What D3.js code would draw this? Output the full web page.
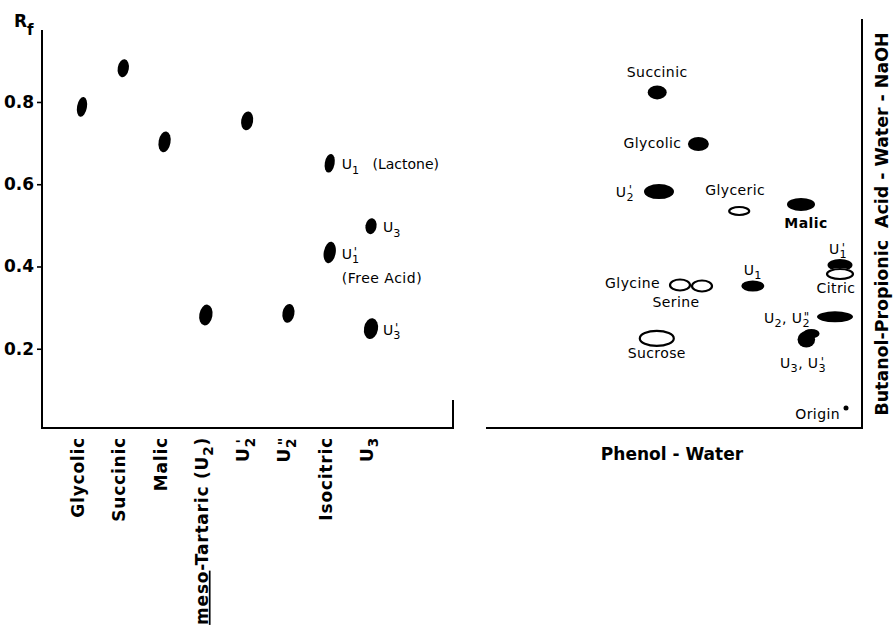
<!DOCTYPE html>
<html>
<head>
<meta charset="utf-8">
<script src="https://cdn.jsdelivr.net/npm/d3@7/dist/d3.min.js"></script>
<style>
body { margin: 0; background: #fff; }
svg text { font-family: "DejaVu Sans", sans-serif; fill: #000; white-space: pre; }
</style>
</head>
<body>
<div id="chart"></div>
<script>
// ---- left panel: one-way run, Rf of each spot ----
var leftCats = ["Glycolic", "Succinic", "Malic", "*meso*-Tartaric (U_2)", "U_2^'", "U_2^\"", "Isocitric", "U_3"];
var leftTicks = [0.2, 0.4, 0.6, 0.8];
// spot -> category index, Rf, spread (width, height) in Rf units
var leftSpotCat = [0, 1, 2, 3, 4, 5, 6, 6, 7, 7];
var leftSpotRf  = [0.788, 0.882, 0.703, 0.282, 0.754, 0.286, 0.651, 0.434, 0.498, 0.249];
var leftSpotW   = [0.024, 0.027, 0.029, 0.032, 0.029, 0.029, 0.024, 0.029, 0.027, 0.034];
var leftSpotH   = [0.049, 0.044, 0.051, 0.051, 0.046, 0.046, 0.046, 0.053, 0.039, 0.051];
var leftSpotLabel = ["", "", "", "", "", "", "U_1   (Lactone)", "U_1^'", "U_3", "U_3^'"];
var leftSpotNote  = ["", "", "", "", "", "", "", "(Free Acid)", "", ""];

// ---- right panel: two-way chromatogram, distance from origin ----
var rightNames  = ["Succinic", "Glycolic", "U_2^'", "Glyceric", "Malic", "U_1^'", "Citric", "U_1",
                   "Glycine", "Serine", "U_2, U_2^\"", "U_3, U_3^'", "Sucrose", "Origin"];
var rightX      = [0.472, 0.369, 0.4675, 0.267, 0.1125, 0.015, 0.015, 0.233, 0.415, 0.36, 0.0275, 0.095, 0.473, 0];
var rightY      = [0.789, 0.660, 0.541, 0.4925, 0.509, 0.3575, 0.335, 0.305, 0.3075, 0.305, 0.228, 0.175, 0.174, 0];
var rightW      = [0.0475, 0.0525, 0.075, 0.055, 0.07, 0.0625, 0.07, 0.0575, 0.055, 0.055, 0.09, 0.055, 0.09, 0.0125];
var rightH      = [0.035, 0.035, 0.0375, 0.025, 0.0325, 0.03, 0.03, 0.0275, 0.0325, 0.0325, 0.0275, 0.0475, 0.0425, 0.0125];
var rightFilled = [1, 1, 1, 0, 1, 1, 0, 1, 0, 0, 1, 1, 0, 1];

// label placement for the right panel (px offsets from spot centre)
var rightLabelPos = [
  {dx: 0, dy: -15, a: "middle"}, {dx: -17, dy: 4, a: "end"}, {dx: -25, dy: 5, a: "end"},
  {dx: -4, dy: -16, a: "middle"}, {dx: 5, dy: 24, a: "middle", bold: true}, {dx: -2, dy: -11, a: "middle"},
  {dx: -4, dy: 19, a: "middle"}, {dx: 0, dy: -11, a: "middle"}, {dx: -20, dy: 3, a: "end"},
  {dx: -26, dy: 21, a: "middle"}, {dx: -25, dy: 6, a: "end"}, {dx: -5, dy: 30, a: "middle"},
  {dx: 0, dy: 20, a: "middle"}, {dx: -6, dy: 11, a: "end"}
];

var width = 893, height = 630;
var svg = d3.select("#chart").append("svg")
  .attr("width", width).attr("height", height);

// small markup: *x* underline, _x subscript, ^x prime stacked over the subscript
function rich(text, str, fs) {
  var shift = 0, m;
  var re = /\*([^*]+)\*|_(.)|\^(.)|([^_^*]+)/g;
  while ((m = re.exec(str)) !== null) {
    if (m[1]) {
      text.append("tspan").attr("dy", -shift).style("text-decoration", "underline").text(m[1]);
      shift = 0;
    } else if (m[2]) {
      text.append("tspan").attr("font-size", fs * 0.8).attr("dy", fs * 0.32 - shift).text(m[2]);
      shift = fs * 0.32;
    } else if (m[3]) {
      var dbl = m[3] == '"';
      text.append("tspan").attr("font-size", fs * 0.85)
        .attr("dx", dbl ? -fs * 0.45 : -fs * 0.38)
        .attr("dy", -fs * 0.16 - shift).text(m[3]);
      shift = -fs * 0.16;
    } else {
      text.append("tspan").attr("dy", -shift).text(m[4]);
      shift = 0;
    }
  }
}

// ================= left panel =================
var L = {left: 42, top: 30, bottom: 428, right: 453};
var yL = d3.scaleLinear().domain([0, 0.975]).range([431, L.top]);
var xL = d3.scalePoint().domain(d3.range(leftCats.length)).range([82, 371]);
var kL = yL(0) - yL(1); // px per Rf unit

var gL = svg.append("g").attr("class", "left-panel");

gL.append("path")
  .attr("d", "M" + L.left + "," + L.top + "V" + L.bottom + "H" + L.right + "V" + (L.bottom - 28))
  .attr("fill", "none").attr("stroke", "#000").attr("stroke-width", 2);

var yAxis = gL.append("g")
  .attr("transform", "translate(" + L.left + ",0)")
  .call(d3.axisLeft(yL).tickValues(leftTicks).tickSize(5).tickPadding(3).tickFormat(d3.format(".1f")));
yAxis.select(".domain").remove();
yAxis.selectAll("line").attr("stroke", "#000").attr("stroke-width", 1.6);
yAxis.selectAll("text").attr("font-size", 17).attr("font-weight", "bold")
  .style("font-family", "'DejaVu Sans', sans-serif");

// Rf label
var rf = gL.append("text").attr("x", 14).attr("y", 27).attr("font-size", 17).attr("font-weight", "bold");
rf.append("tspan").text("R");
rf.append("tspan").attr("font-size", 15).attr("dy", 8).text("f");

// category labels (rotated)
leftCats.forEach(function (c, i) {
  var t = gL.append("text")
    .attr("transform", "translate(" + (xL(i) + 2) + "," + (L.bottom + 9) + ") rotate(-90)")
    .attr("text-anchor", "end").attr("dy", "0.35em")
    .attr("font-size", 17).attr("font-weight", "bold").style("letter-spacing", "0.8px");
  rich(t, c, 17);
});

// spots
leftSpotRf.forEach(function (rf, i) {
  var cx = xL(leftSpotCat[i]), cy = yL(rf);
  gL.append("ellipse")
    .attr("cx", 0).attr("cy", 0)
    .attr("rx", leftSpotW[i] * kL / 2).attr("ry", leftSpotH[i] * kL / 2)
    .attr("transform", "translate(" + cx + "," + cy + ") rotate(10)")
    .attr("fill", "#000");
  if (leftSpotLabel[i]) {
    var t = gL.append("text").attr("x", cx + 12).attr("y", cy + 6).attr("font-size", 14);
    rich(t, leftSpotLabel[i], 14);
  }
  if (leftSpotNote[i]) {
    gL.append("text").attr("x", cx + 12).attr("y", cy + 30).attr("font-size", 14)
      .style("letter-spacing", "0.5px").text(leftSpotNote[i]);
  }
});

// ================= right panel =================
var R = {left: 486, top: 19, bottom: 428, right: 862};
var xR = d3.scaleLinear().domain([0, 1]).range([846, 446]);
var yR = d3.scaleLinear().domain([0, 1]).range([408, 8]);
var kR = xR(0) - xR(1);

var gR = svg.append("g").attr("class", "right-panel");
gR.append("path")
  .attr("d", "M" + R.left + "," + R.bottom + "H" + R.right + "V" + R.top)
  .attr("fill", "none").attr("stroke", "#000").attr("stroke-width", 2);

var idx = d3.range(rightNames.length);
// filled spots
idx.filter(function (i) { return rightFilled[i]; }).forEach(function (i) {
  var cx = xR(rightX[i]), cy = yR(rightY[i]);
  var rx = rightW[i] * kR / 2, ry = rightH[i] * kR / 2;
  if (rightNames[i] == "U_3, U_3^'") {
    // kidney shaped spot: round lower body plus an arm reaching right at the top
    gR.append("ellipse").attr("cx", cx - rx * 0.15).attr("cy", cy + ry * 0.15)
      .attr("rx", rx * 0.8).attr("ry", ry * 0.85).attr("fill", "#000");
    gR.append("ellipse").attr("cx", cx + rx * 0.3).attr("cy", cy - ry * 0.45)
      .attr("rx", rx * 0.75).attr("ry", ry * 0.5).attr("fill", "#000");
  } else {
    gR.append("ellipse").attr("cx", cx).attr("cy", cy)
      .attr("rx", rx).attr("ry", ry).attr("fill", "#000");
  }
});
// open spots: white body first, then outlines
var open = idx.filter(function (i) { return !rightFilled[i]; });
open.forEach(function (i) {
  gR.append("ellipse").attr("cx", xR(rightX[i])).attr("cy", yR(rightY[i]))
    .attr("rx", rightW[i] * kR / 2).attr("ry", rightH[i] * kR / 2).attr("fill", "#fff");
});
open.forEach(function (i) {
  gR.append("ellipse").attr("cx", xR(rightX[i])).attr("cy", yR(rightY[i]))
    .attr("rx", rightW[i] * kR / 2 - 1).attr("ry", rightH[i] * kR / 2 - 1)
    .attr("fill", "none").attr("stroke", "#000").attr("stroke-width", 2.2);
});

// spot labels
idx.forEach(function (i) {
  var p = rightLabelPos[i];
  var t = gR.append("text")
    .attr("x", xR(rightX[i]) + p.dx).attr("y", yR(rightY[i]) + p.dy)
    .attr("text-anchor", p.a).attr("font-size", 14)
    .attr("font-weight", p.bold ? "bold" : "normal").style("letter-spacing", "0.4px");
  rich(t, rightNames[i], 14);
});

// axis titles
gR.append("text").attr("x", 672).attr("y", 460).attr("text-anchor", "middle")
  .attr("font-size", 17).attr("font-weight", "bold").text("Phenol - Water");
gR.append("text")
  .attr("transform", "translate(888,224) rotate(-90)")
  .attr("text-anchor", "middle").attr("font-size", 17.4).attr("font-weight", "bold")
  .text("Butanol-Propionic  Acid - Water - NaOH");
</script>
</body>
</html>
